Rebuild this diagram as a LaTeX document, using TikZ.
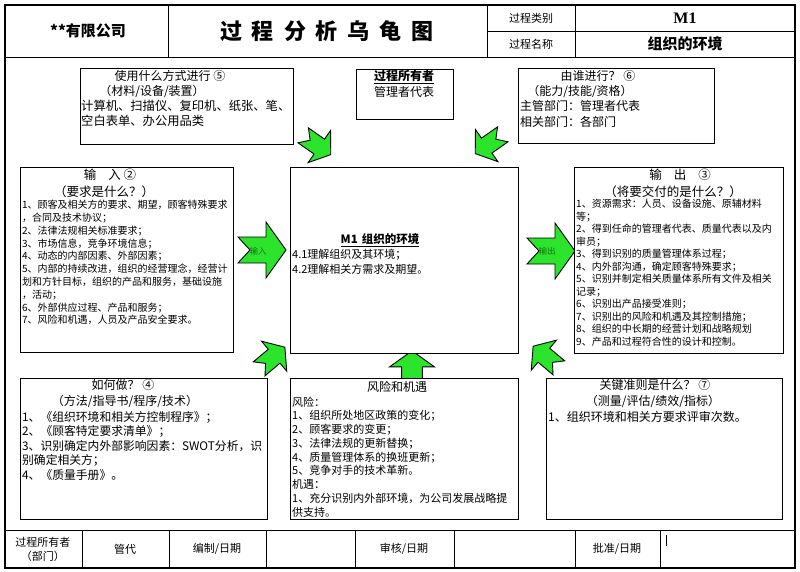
\documentclass[tikz,border=0pt]{standalone}
\usepackage{fontspec}
\setmainfont{Noto Sans CJK SC}
\newfontfamily\serifl{Liberation Serif}
\definecolor{arrgreen}{RGB}{45,228,45}
\definecolor{lblgreen}{RGB}{25,110,25}
\newcommand{\fz}[2]{\fontsize{#1}{#2}\selectfont}
\newcommand{\greenarrow}[5]{% name, cx, cy, rotate, scale
  \begin{scope}[shift={(#2,#3)},rotate=#4,scale=#5]
    \draw[fat] (-24,-13) -- (4,-13) -- (4,-28) -- (24,0) -- (4,28) -- (4,13) -- (-24,13) -- (-12,0) -- cycle;
    \coordinate (#1) at (0,0);
  \end{scope}}
\tikzset{
  box/.style={draw=black,line width=1pt,fill=white,anchor=north west,inner sep=0pt},
  txt/.style={anchor=north west,align=left,inner sep=0pt},
  ctr/.style={anchor=center,inner sep=0pt},
  fat/.style={fill=arrgreen,draw=black,line width=0.9pt,line join=miter},
  frame/.style={line width=1.3pt},
  grid/.style={line width=0.9pt}
}
\begin{document}
\begin{tikzpicture}[x=1pt,y=-1pt]
\useasboundingbox (0,0) rectangle (800,572);
\fill[white] (0,0) rectangle (800,572);

% ---------- frame and header ----------
\draw[frame] (5,5) rectangle (795,568);
\draw[grid] (5,57) -- (795,57);
\draw[grid] (168,5) -- (168,57);
\draw[grid] (487,5) -- (487,57);
\draw[grid] (575,5) -- (575,57);
\draw[grid] (487,31) -- (795,31);
\node[ctr,font=\fz{15}{17}\bfseries] (company) at (88,31) {**有限公司};
\node[ctr,font=\fz{22}{24}\bfseries] (title) at (327,31) {过\hspace{10pt}程\hspace{10pt}分\hspace{10pt}析\hspace{10pt}乌\hspace{10pt}龟\hspace{10pt}图};
\node[ctr,font=\fz{11}{13}] (ptype) at (531,18) {过程类别};
\node[ctr,font=\fz{11}{13}] (pname) at (531,44) {过程名称};
\node[ctr,font=\fz{16}{18}\serifl\bfseries] (m1) at (685,18) {M1};
\node[ctr,font=\fz{15}{17}\bfseries] (env) at (685,44) {组织的环境};

% ---------- footer ----------
\draw[grid] (5,530) -- (795,530);
\foreach \xx in {82,169,266,355,454,575,660} \draw[grid] (\xx,530) -- (\xx,568);
\draw[line width=0.7pt] (666,535) -- (666,546);
\node[ctr,font=\fz{11}{14},align=center] (fowner) at (43,549) {过程所有者\\（部门）};
\node[ctr,font=\fz{11}{13}] (fgd) at (125,549) {管代};
\node[ctr,font=\fz{11}{13}] (fbz) at (217,549) {编制/日期};
\node[ctr,font=\fz{11}{13}] (fsh) at (404,549) {审核/日期};
\node[ctr,font=\fz{11}{13}] (fpz) at (617,549) {批准/日期};

% ---------- green arrows (drawn first, boxes cover their tails) ----------
\greenarrow{aTL}{317}{145}{-35}{0.7}
\greenarrow{aTR}{489}{144}{215}{0.7}
\greenarrow{aIn}{262}{250}{0}{1}
\greenarrow{aOut}{551}{251}{0}{1}
\greenarrow{aBL}{272}{358}{40}{0.7}
\greenarrow{aBM}{412}{370}{90}{0.8}
\greenarrow{aBR}{546}{357}{140}{0.7}
\node[ctr,font=\fz{8.5}{10},text=lblgreen] (lin) at (258,251) {输入};
\node[ctr,font=\fz{8.5}{10},text=lblgreen] (lout) at (547,251) {输出};

% ---------- boxes ----------
\node[box,minimum width=213pt,minimum height=76pt] (mat) at (80,68) {};
\node[box,minimum width=97pt,minimum height=50pt] (own) at (356,69) {};
\node[box,minimum width=196pt,minimum height=75pt] (who) at (518,68) {};
\node[box,minimum width=213pt,minimum height=185pt] (inp) at (20,167) {};
\node[box,minimum width=228pt,minimum height=186pt] (proc) at (290,167) {};
\node[box,minimum width=209pt,minimum height=186pt] (outp) at (574,167) {};
\node[box,minimum width=247pt,minimum height=141pt] (how) at (20,378) {};
\node[box,minimum width=228pt,minimum height=141pt] (risk) at (290,378) {};
\node[box,minimum width=236pt,minimum height=141pt] (crit) at (546,378) {};

% materials box
\node[ctr,font=\fz{12}{14}] (matH1) at (170,76) {使用什么方式进行 ⑤};
\node[ctr,font=\fz{12}{14}] (matH2) at (152,91) {（材料/设备/装置）};
\node[txt,font=\fz{12.3}{15}] (matT) at (81,100) {计算机、扫描仪、复印机、纸张、笔、\\空白表单、办公用品类};

% owner box
\node[ctr,font=\fz{12}{14}\bfseries] (ownH) at (404,77) {\underline{过程所有者}};
\node[ctr,font=\fz{12}{14}] (ownT) at (404,92) {管理者代表};

% who box
\node[ctr,font=\fz{12}{14}] (whoH1) at (598,76) {由谁进行？ ⑥};
\node[ctr,font=\fz{12}{14}] (whoH2) at (580,91) {（能力/技能/资格）};
\node[txt,font=\fz{12}{16}] (whoT) at (520,100) {主管部门：管理者代表\\相关部门：各部门};

% input box
\node[ctr,font=\fz{12.5}{14}] (inH1) at (110,175) {输\hspace{12pt}入 ②};
\node[ctr,font=\fz{12.5}{14}] (inH2) at (104,192) {（要求是什么？）};
\node[txt,font=\fz{10}{12.8}] (inT) at (22,200) {1、顾客及相关方的要求、期望，顾客特殊要求\\
，合同及技术协议；\\
2、法律法规相关标准要求；\\
3、市场信息，竞争环境信息；\\
4、动态的内部因素、外部因素；\\
5、内部的持续改进，组织的经营理念，经营计\\
划和方针目标，组织的产品和服务，基础设施\\
，活动；\\
6、外部供应过程、产品和服务；\\
7、风险和机遇，人员及产品安全要求。};

% process box
\node[ctr,font=\fz{11.5}{13}\bfseries] (procH) at (380,240) {\underline{M1\hspace{4pt}组织的环境}};
\node[txt,font=\fz{11}{15}] (procT) at (292,248.5) {4.1理解组织及其环境；\\4.2理解相关方需求及期望。};

% output box
\node[ctr,font=\fz{12.5}{14}] (outH1) at (680,175) {输\hspace{12pt}出\hspace{12pt}③};
\node[ctr,font=\fz{12.5}{14}] (outH2) at (673,192) {（将要交付的是什么？）};
\node[txt,font=\fz{10}{12.5}] (outT) at (576,199) {1、资源需求：人员、设备设施、原辅材料\\
等；\\
2、得到任命的管理者代表、质量代表以及内\\
审员；\\
3、得到识别的质量管理体系过程；\\
4、内外部沟通，确定顾客特殊要求；\\
5、识别并制定相关质量体系所有文件及相关\\
记录；\\
6、识别出产品接受准则；\\
7、识别出的风险和机遇及其控制措施；\\
8、组织的中长期的经营计划和战略规划\\
9、产品和过程符合性的设计和控制。};

% how box
\node[ctr,font=\fz{12}{14}] (howH1) at (123,385) {如何做？ ④};
\node[ctr,font=\fz{12}{14}] (howH2) at (125,401) {（方法/指导书/程序/技术）};
\node[txt,font=\fz{11.8}{14.5}] (howT) at (22,411) {1、《组织环境和相关方控制程序》；\\
2、《顾客特定要求清单》；\\
3、识别确定内外部影响因素：SWOT分析，识\\
别确定相关方；\\
4、《质量手册》。};

% risk box
\node[ctr,font=\fz{12}{14}] (riskH) at (397,387) {风险和机遇};
\node[txt,font=\fz{11}{13.75}] (riskT) at (292,396.5) {风险：\\
1、组织所处地区政策的变化；\\
2、顾客要求的变更；\\
3、法律法规的更新替换；\\
4、质量管理体系的换班更新；\\
5、竞争对手的技术革新。\\
机遇：\\
1、充分识别内外部环境，为公司发展战略提\\
供支持。};

% criteria box
\node[ctr,font=\fz{12}{14}] (critH1) at (655,385) {关键准则是什么？ ⑦};
\node[ctr,font=\fz{12}{14}] (critH2) at (653,401) {（测量/评估/绩效/指标）};
\node[txt,font=\fz{12}{14.5}] (critT) at (548,411) {1、组织环境和相关方要求评审次数。};
\end{tikzpicture}
\end{document}
